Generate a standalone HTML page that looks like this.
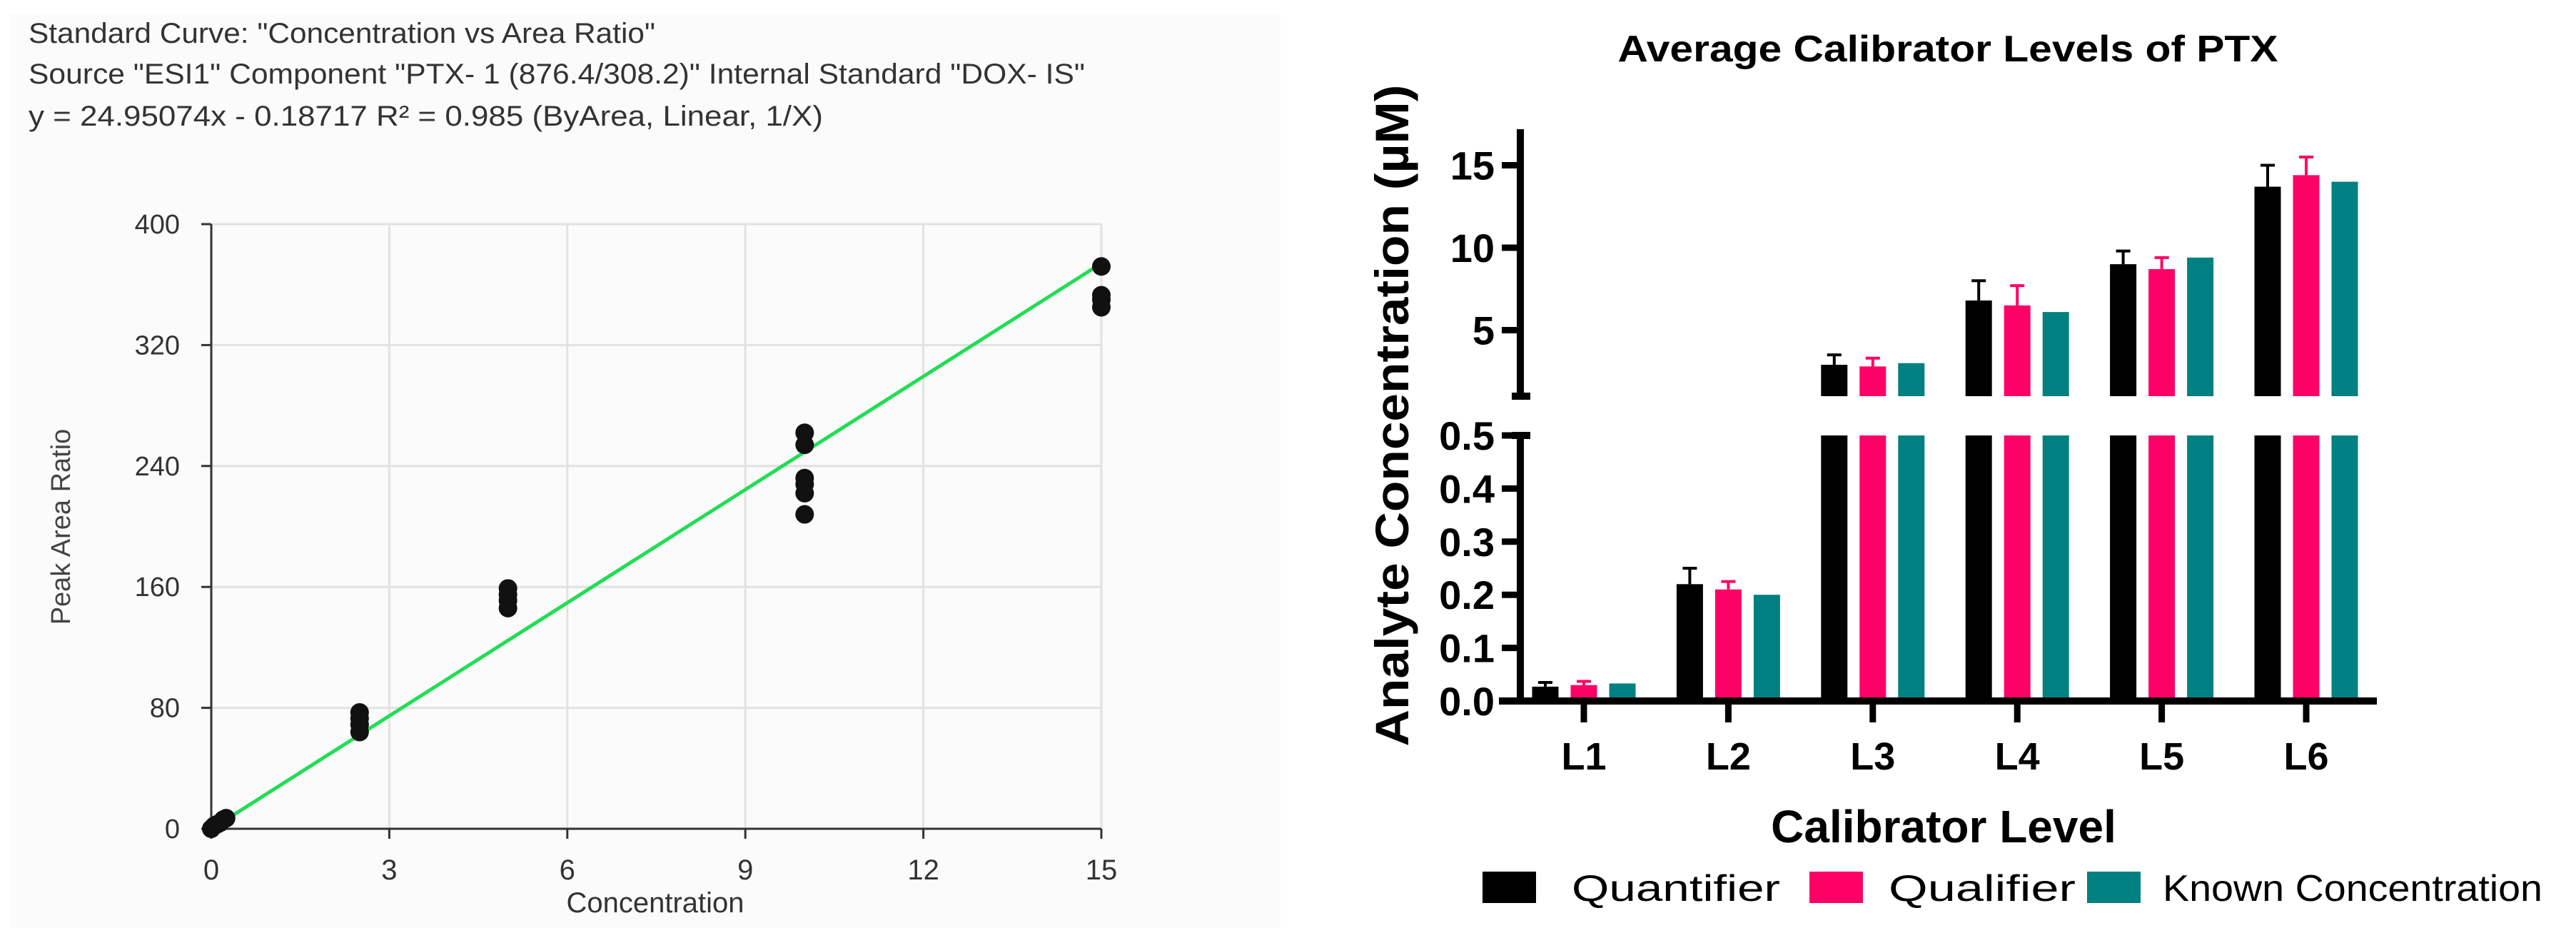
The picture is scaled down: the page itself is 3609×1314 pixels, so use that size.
<!DOCTYPE html>
<html><head><meta charset="utf-8"><style>
html,body{margin:0;padding:0;background:#fff;}
svg{display:block;}
text{font-family:"Liberation Sans",sans-serif;}
</style></head><body>
<svg id="svg" width="3609" height="1314" viewBox="0 0 3609 1314" xmlns="http://www.w3.org/2000/svg">
<rect x="0" y="0" width="3609" height="1314" fill="#fff"/>
<rect x="14" y="20" width="1780" height="1280" fill="#fbfbfb"/>
<g id="left">
<text x="40" y="60" font-size="40" fill="#333" textLength="878" lengthAdjust="spacingAndGlyphs">Standard Curve: "Concentration vs Area Ratio"</text>
<text x="40" y="117" font-size="40" fill="#333" textLength="1480" lengthAdjust="spacingAndGlyphs">Source "ESI1" Component "PTX- 1 (876.4/308.2)"  Internal Standard "DOX- IS"</text>
<text x="40" y="176" font-size="40" fill="#333" textLength="1113" lengthAdjust="spacingAndGlyphs">y = 24.95074x - 0.18717    R² = 0.985  (ByArea, Linear, 1/X)</text>
</g>
<g id="right"></g>
</svg>
<script>
var NS='http://www.w3.org/2000/svg';
function mk(parent,tag,attrs,txt){var e=document.createElementNS(NS,tag);for(var k in attrs)e.setAttribute(k,attrs[k]);if(txt!==undefined)e.textContent=txt;parent.appendChild(e);return e;}

// ---------- Left chart data ----------
var scatterX=[0,0.05,0.1,0.15,0.2,0.25,2.5,2.5,2.5,2.5,5,5,5,5,10,10,10,10,10,10,15,15,15,15];
var scatterY=[0,2,3,4,6,7,64,69,73,77,146,151,155,159,208,222,228,232,254,262,345,350,353,372];
var fitSlope=[24.95074];
var fitIntercept=[-0.18717];
var leftXTicks=[0,3,6,9,12,15];
var leftYTicks=[0,80,160,240,320,400];

var L=document.getElementById('left');
var lx=function(v){return 296+(v/15)*(1543-296);};
var ly=function(v){return 1161-(v/400)*(1161-314);};
leftXTicks.forEach(function(t){if(t>0){var g=mk(L,'line',{x1:lx(t),x2:lx(t),y1:ly(400),y2:ly(0),stroke:'#e2e2e2','stroke-width':3});

}});
leftYTicks.forEach(function(t){if(t>0){var g=mk(L,'line',{x1:lx(0),x2:lx(15),y1:ly(t),y2:ly(t),stroke:'#e2e2e2','stroke-width':3});

}});
var ax=mk(L,'path',{d:'M'+lx(0)+' '+ly(400)+' V'+ly(0)+' H'+lx(15),stroke:'#333',fill:'none','stroke-width':3});


leftXTicks.forEach(function(t){
 var tk=mk(L,'line',{x1:lx(t),x2:lx(t),y1:ly(0),y2:ly(0)+14,stroke:'#333','stroke-width':3});
 
 
 var tl=mk(L,'text',{x:lx(t),y:1232,'font-size':40,fill:'#333','text-anchor':'middle'},String(t));
 
 
});
leftYTicks.forEach(function(t){
 var tk=mk(L,'line',{x1:lx(0)-14,x2:lx(0),y1:ly(t),y2:ly(t),stroke:'#333','stroke-width':3});
 
 
 var tl=mk(L,'text',{x:252,y:ly(t)+13,'font-size':38,fill:'#333','text-anchor':'end'},String(t));
 
 
});
var xt=mk(L,'text',{x:918,y:1278,'font-size':40,fill:'#333','text-anchor':'middle'},'Concentration');


var yt=mk(L,'text',{x:0,y:0,'font-size':38,fill:'#444','text-anchor':'middle',transform:'translate(98,738) rotate(-90)'},'Peak Area Ratio');


var fl=mk(L,'line',{x1:lx(0),y1:ly(fitIntercept[0]),x2:lx(15),y2:ly(fitSlope[0]*15+fitIntercept[0]),stroke:'#22dd55','stroke-width':5});


scatterX.forEach(function(v,i){
 var c=mk(L,'circle',{cx:lx(v),cy:ly(scatterY[i]),r:13,fill:'#111'});
 
 
});

// ---------- Right chart data ----------
var levels=['L1','L2','L3','L4','L5','L6'];
var quantifier=[0.027,0.22,2.9,6.8,9.0,13.7];
var quantifierErr=[0.008,0.03,0.6,1.2,0.8,1.3];
var qualifier=[0.03,0.21,2.8,6.5,8.7,14.4];
var qualifierErr=[0.007,0.015,0.5,1.2,0.7,1.1];
var known=[0.033,0.2,3.0,6.1,9.4,14.0];
var upperTicks=[5,10,15];
var lowerTicks=[0,0.1,0.2,0.3,0.4,0.5];
var lowerTickLabels=['0.0','0.1','0.2','0.3','0.4','0.5'];

var R=document.getElementById('right');
var axisX=2130;
var lowY=function(v){return 982-(v/0.5)*(982-610);};
var upBottom=555, upTop=181;
var upY=function(v){return 578-(v/5)*115.5;};
var cx=function(i){return 2219+i*202.4;};
var series=[{d:quantifier,e:quantifierErr,c:'#000',n:'quantifier',off:-54},
            {d:qualifier,e:qualifierErr,c:'#ff0066',n:'qualifier',off:0},
            {d:known,e:null,c:'#008080',n:'known-concentration',off:54}];
var bw=37;
var t=mk(R,'text',{x:2729,y:86,'font-size':52,'font-weight':'bold',fill:'#000','text-anchor':'middle',textLength:925,lengthAdjust:'spacingAndGlyphs'},'Average Calibrator Levels of PTX');


series.forEach(function(s){
 s.d.forEach(function(v,i){
  var x=cx(i)+s.off-bw/2;
  var top=v<=0.5?lowY(v):lowY(0.5);
  var b=mk(R,'rect',{x:x,y:top,width:bw,height:982-top,fill:s.c});
  
  
  var etop=null, ebase=null;
  if(v>0.5){
   var ut=upY(v);
   var b2=mk(R,'rect',{x:x,y:ut,width:bw,height:upBottom-ut,fill:s.c});
   
   
   if(s.e){etop=upY(v+s.e[i]);ebase=ut;}
  } else if(s.e){etop=lowY(v+s.e[i]);ebase=top;}
  if(etop!==null){
   var eb=mk(R,'path',{d:'M'+(x+bw/2)+' '+ebase+' V'+etop+' M'+(x+bw/2-10)+' '+etop+' H'+(x+bw/2+10),stroke:s.c,'stroke-width':4,fill:'none'});
   
   
  }
 });
});
var ya1=mk(R,'path',{d:'M'+axisX+' '+upTop+' V'+upBottom+' M'+(axisX-12)+' '+upBottom+' H'+(axisX+14),stroke:'#000','stroke-width':10,fill:'none'});


var ya2=mk(R,'path',{d:'M'+(axisX+14)+' '+lowY(0.5)+' H'+(axisX-12)+' M'+axisX+' '+lowY(0.5)+' V982',stroke:'#000','stroke-width':10,fill:'none'});


var xa=mk(R,'line',{x1:2100,x2:3330,y1:982,y2:982,stroke:'#000','stroke-width':10});


upperTicks.forEach(function(v){
 var tk=mk(R,'line',{x1:axisX-26,x2:axisX,y1:upY(v),y2:upY(v),stroke:'#000','stroke-width':9});
 
 
 var tl=mk(R,'text',{x:axisX-36,y:upY(v)+20,'font-size':56,'font-weight':'bold',fill:'#000','text-anchor':'end'},String(v));
 
 
});
lowerTicks.forEach(function(v,i){
 var tk=mk(R,'line',{x1:axisX-26,x2:axisX,y1:lowY(v),y2:lowY(v),stroke:'#000','stroke-width':9});
 
 
 var tl=mk(R,'text',{x:axisX-36,y:lowY(v)+20,'font-size':56,'font-weight':'bold',fill:'#000','text-anchor':'end'},lowerTickLabels[i]);
 
 
});
levels.forEach(function(l,i){
 var tk=mk(R,'line',{x1:cx(i),x2:cx(i),y1:982,y2:1012,stroke:'#000','stroke-width':9});
 
 
 var tl=mk(R,'text',{x:cx(i),y:1078,'font-size':54,'font-weight':'bold',fill:'#000','text-anchor':'middle'},l);
 
 
});
var rxt=mk(R,'text',{x:2723,y:1180,'font-size':64,'font-weight':'bold',fill:'#000','text-anchor':'middle'},'Calibrator Level');


var ryt=mk(R,'text',{x:0,y:0,'font-size':66,'font-weight':'bold',fill:'#000','text-anchor':'middle',textLength:927,lengthAdjust:'spacingAndGlyphs',transform:'translate(1973,582) rotate(-90)'},'Analyte Concentration (µM)');


var leg=[{c:'#000',t:'Quantifier',sx:2077,tx:2202,w:292},{c:'#ff0066',t:'Qualifier',sx:2535,tx:2646,w:262},{c:'#008080',t:'Known Concentration',sx:2924,tx:3030,w:532}];
leg.forEach(function(g){
 var r=mk(R,'rect',{x:g.sx,y:1221,width:75,height:44,fill:g.c});
 
 
 var tx=mk(R,'text',{x:g.tx,y:1262,'font-size':52,fill:'#000',textLength:g.w,lengthAdjust:'spacingAndGlyphs'},g.t);
 
 
});
</script>
</body></html>
